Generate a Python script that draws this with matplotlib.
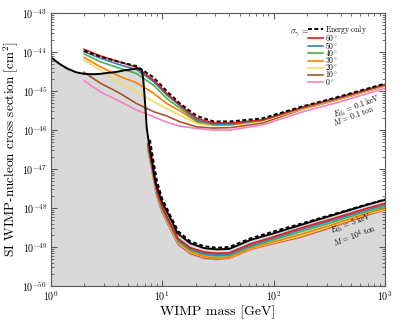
import matplotlib
matplotlib.use('Agg')
import matplotlib.pyplot as plt
import numpy as np

plt.rcParams['font.family'] = 'serif'
plt.rcParams['font.serif'] = ['cmr10', 'DejaVu Serif']
plt.rcParams['mathtext.fontset'] = 'cm'
plt.rcParams['axes.unicode_minus'] = False
plt.rcParams['axes.formatter.use_mathtext'] = True

# grey region bounded by the solid black curve (log10 of cross section)
m_floor = [1.0, 1.2, 1.4, 1.7, 2.0, 2.4, 2.8, 3.4, 3.9, 4.6, 5.5, 6.1, 6.6, 6.8, 7.05,
           7.3, 7.6, 8.17, 8.74, 10, 12.3, 13.7, 17.8, 24, 31, 40, 62, 100, 173, 344, 685, 1000]
floor = [-44.13, -44.3, -44.42, -44.52, -44.56, -44.57, -44.56, -44.53, -44.51, -44.47,
         -44.44, -44.42, -44.46, -44.72, -45.3, -45.95, -46.3, -46.81, -47.33, -47.84,
         -48.35, -48.64, -48.90, -49.03, -49.06, -49.05, -48.82, -48.65, -48.44, -48.18,
         -47.92, -47.79]

# E_th = 0.1 keV, M = 0.1 ton
m_up = [2.0, 2.8, 4.2, 5.9, 8.4, 11, 14.5, 20.5, 29, 41, 80, 184, 371, 1000]
energy_up = [-43.97, -44.12, -44.26, -44.36, -44.65, -45.0, -45.32, -45.64, -45.78, -45.78, -45.70, -45.39, -45.16, -44.81]
up_60 = [-43.93, -44.10, -44.26, -44.39, -44.72, -45.06, -45.36, -45.70, -45.82, -45.82, -45.74, -45.41, -45.18, -44.83]
up_50 = [-43.99, -44.16, -44.33, -44.45, -44.76, -45.10, -45.38, -45.74, -45.85, -45.85, -45.74, -45.42, -45.19, -44.84]
up_40 = [-44.05, -44.25, -44.42, -44.55, -44.85, -45.19, -45.44, -45.77, -45.86, -45.85, -45.75, -45.42, -45.19, -44.84]
up_30 = [-44.14, -44.38, -44.63, -44.79, -45.06, -45.32, -45.51, -45.79, -45.87, -45.87, -45.75, -45.44, -45.21, -44.85]
up_20 = [-44.21, -44.46, -44.80, -45.02, -45.27, -45.45, -45.62, -45.83, -45.89, -45.88, -45.77, -45.45, -45.22, -44.86]
up_10 = [-44.52, -44.80, -45.06, -45.32, -45.53, -45.64, -45.79, -45.92, -45.95, -45.94, -45.82, -45.46, -45.23, -44.87]
up_0 = [-44.74, -45.02, -45.27, -45.49, -45.66, -45.80, -45.90, -45.96, -46.00, -46.00, -45.87, -45.53, -45.30, -44.93]

# E_th = 5 keV, M = 10^4 ton
m_en_low = [7.8, 8.3, 9, 10, 12, 14, 18, 24, 31, 40, 62, 100, 173, 344, 685, 1000]
energy_low = [-46.25, -46.72, -47.3, -47.75, -48.22, -48.6, -48.86, -48.98, -49.02, -49.0, -48.78, -48.6, -48.41, -48.16, -47.91, -47.78]
m_low = [7.5, 8.2, 9, 10, 12, 14, 18, 24, 31, 40, 62, 100, 173, 344, 685, 1000]
low_60 = [-46.35, -46.95, -47.55, -47.95, -48.42, -48.79, -49.02, -49.13, -49.16, -49.15, -48.92, -48.74, -48.52, -48.27, -48.01, -47.88]
low_50 = [-46.38, -46.98, -47.58, -47.98, -48.45, -48.82, -49.05, -49.17, -49.20, -49.19, -48.96, -48.78, -48.56, -48.31, -48.05, -47.92]
low_40 = [-46.41, -47.01, -47.61, -48.01, -48.48, -48.85, -49.08, -49.20, -49.23, -49.22, -48.99, -48.82, -48.61, -48.36, -48.09, -47.97]
low_30 = [-46.44, -47.04, -47.64, -48.04, -48.51, -48.88, -49.12, -49.25, -49.28, -49.26, -49.03, -48.87, -48.68, -48.42, -48.14, -48.01]
low_20 = [-46.46, -47.06, -47.66, -48.06, -48.53, -48.90, -49.14, -49.26, -49.28, -49.27, -49.04, -48.89, -48.72, -48.45, -48.16, -48.03]
low_10 = [-46.48, -47.08, -47.68, -48.08, -48.55, -48.92, -49.16, -49.28, -49.30, -49.28, -49.05, -48.90, -48.74, -48.47, -48.18, -48.04]
low_0 = [-46.51, -47.11, -47.71, -48.11, -48.58, -48.95, -49.18, -49.30, -49.32, -49.30, -49.07, -48.92, -48.76, -48.49, -48.19, -48.05]

angles = ['60', '50', '40', '30', '20', '10', '0']
colors = ['#e41a1c', '#377eb8', '#4daf4a', '#ff7f00', '#f5dc5a', '#a65628', '#f781bf']
up_curves = [up_60, up_50, up_40, up_30, up_20, up_10, up_0]
low_curves = [low_60, low_50, low_40, low_30, low_20, low_10, low_0]

fig = plt.figure(figsize=(4.07, 3.22), dpi=100)
ax = fig.add_axes([50.5 / 407, 1 - 286 / 322, 334.5 / 407, 273 / 322])

ax.fill_between(m_floor, 1e-50, 10 ** np.array(floor), color='#d9d9d9', lw=0, zorder=1)

handles = {}
for ang, col, cu, cl in reversed(list(zip(angles, colors, up_curves, low_curves))):
    h, = ax.plot(m_up, 10 ** np.array(cu), color=col, lw=1.2, zorder=2)
    ax.plot(m_low, 10 ** np.array(cl), color=col, lw=1.2, zorder=2)
    handles[ang] = h

h_en, = ax.plot(m_up, 10 ** np.array(energy_up), color='k', lw=1.4, ls=(0, (2, 1.3)), zorder=3)
ax.plot(m_en_low, 10 ** np.array(energy_low), color='k', lw=1.4, ls=(0, (2, 1.3)), zorder=3)
ax.plot(m_floor, 10 ** np.array(floor), color='k', lw=1.4, zorder=4)

ax.set_xscale('log')
ax.set_yscale('log')
ax.set_xticks([10.0 ** e for e in range(0, 4)])
ax.set_xticks([s * 10.0 ** e for e in range(0, 3) for s in range(2, 10)], minor=True)
ax.set_yticks([10.0 ** e for e in range(-50, -42)])
ax.set_yticks([s * 10.0 ** e for e in range(-50, -43) for s in range(2, 10)], minor=True)
ax.xaxis.set_minor_formatter(matplotlib.ticker.NullFormatter())
ax.yaxis.set_minor_formatter(matplotlib.ticker.NullFormatter())
ax.set_xlim(1, 1000)
ax.set_ylim(1e-50, 1e-43)
ax.set_xlabel('WIMP mass [GeV]', fontsize=10, labelpad=2)
ax.set_ylabel(r'SI WIMP-nucleon cross section [cm$^2$]', fontsize=9.5)
ax.yaxis.set_label_coords(-0.092, 0.5)

ax.tick_params(which='both', direction='in', top=True, right=True, labelsize=7.2,
               colors='0.35', labelcolor='k', pad=2.5)
ax.tick_params(which='major', length=4, width=0.8)
ax.tick_params(which='minor', length=2, width=0.6)
for s in ax.spines.values():
    s.set_color('0.35')
    s.set_zorder(5)

labels = [r'$\mathrm{Energy\ only}$'] + [r'$%s^\circ$' % a for a in angles]
ax.legend([h_en] + [handles[a] for a in angles], labels, loc='upper right',
          bbox_to_anchor=(0.955, 0.975), fontsize=5.5, handlelength=2.0, handletextpad=0.2,
          labelspacing=-0.38, frameon=False, borderaxespad=0)
ax.text(0.715, 0.925, r'$\sigma_\gamma$ =', transform=ax.transAxes, fontsize=6, va='center')

ax.text(0.915, 0.658, r'$E_{\rm th}$ = 0.1 keV', transform=ax.transAxes, fontsize=5.5,
        rotation=21, ha='center', va='center', style='italic')
ax.text(0.905, 0.625, r'$M$ = 0.1 ton', transform=ax.transAxes, fontsize=5.5,
        rotation=21, ha='center', va='center', style='italic')
ax.text(0.90, 0.228, r'$E_{\rm th}$ = 5 keV', transform=ax.transAxes, fontsize=5.5,
        rotation=21, ha='center', va='center', style='italic')
ax.text(0.91, 0.184, r'$M$ = $10^4$ ton', transform=ax.transAxes, fontsize=5.5,
        rotation=21, ha='center', va='center', style='italic')

fig.savefig('out.png', dpi=100)
